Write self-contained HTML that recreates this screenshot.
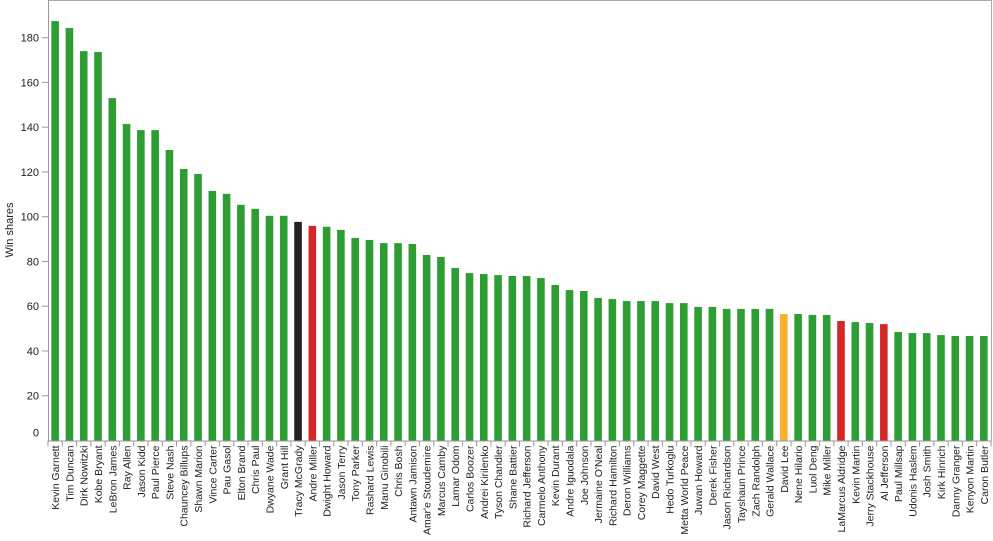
<!DOCTYPE html>
<html><head><meta charset="utf-8"><style>
html,body{margin:0;padding:0;background:#fff;}
svg{display:block;font-family:"Liberation Sans",Arial,sans-serif;}
</style></head><body>
<svg id="chart" width="993" height="541">
<g>
<line x1="48" y1="0.5" x2="991.5" y2="0.5" stroke="#aaa"/>
<line x1="991.5" y1="0" x2="991.5" y2="441" stroke="#aaa"/>
</g>
<g id="yaxis"></g>
<g id="xaxis"></g>
<g id="bars"></g>
<text transform="translate(13,230) rotate(-90)" text-anchor="middle" font-size="11" fill="#222">Win shares</text>
</svg>
<script>
const players = ["Kevin Garnett","Tim Duncan","Dirk Nowitzki","Kobe Bryant","LeBron James","Ray Allen","Jason Kidd","Paul Pierce","Steve Nash","Chauncey Billups","Shawn Marion","Vince Carter","Pau Gasol","Elton Brand","Chris Paul","Dwyane Wade","Grant Hill","Tracy McGrady","Andre Miller","Dwight Howard","Jason Terry","Tony Parker","Rashard Lewis","Manu Ginobili","Chris Bosh","Antawn Jamison","Amar'e Stoudemire","Marcus Camby","Lamar Odom","Carlos Boozer","Andrei Kirilenko","Tyson Chandler","Shane Battier","Richard Jefferson","Carmelo Anthony","Kevin Durant","Andre Iguodala","Joe Johnson","Jermaine O'Neal","Richard Hamilton","Deron Williams","Corey Maggette","David West","Hedo Turkoglu","Metta World Peace","Juwan Howard","Derek Fisher","Jason Richardson","Tayshaun Prince","Zach Randolph","Gerald Wallace","David Lee","Nene Hilario","Luol Deng","Mike Miller","LaMarcus Aldridge","Kevin Martin","Jerry Stackhouse","Al Jefferson","Paul Millsap","Udonis Haslem","Josh Smith","Kirk Hinrich","Danny Granger","Kenyon Martin","Caron Butler"];
const winShares = [187.4,184.3,174.0,173.6,153.0,141.4,138.7,138.7,129.8,121.3,119.1,111.5,110.2,105.3,103.5,100.4,100.4,97.7,95.9,95.5,94.1,90.5,89.6,88.2,88.2,87.8,82.9,82.0,77.1,74.8,74.4,73.9,73.5,73.5,72.6,69.5,67.2,66.8,63.7,63.2,62.3,62.3,62.3,61.4,61.4,59.7,59.7,58.8,58.8,58.8,58.8,56.5,56.5,56.1,56.1,53.4,52.9,52.5,52.0,48.5,48.0,48.0,47.1,46.7,46.7,46.7];
const barColors = {"Tracy McGrady":"#222222","Andre Miller":"#d62728","LaMarcus Aldridge":"#d62728","Al Jefferson":"#d62728","David Lee":"#fbb02d"};
const yTicks = [0,20,40,60,80,100,120,140,160,180];

const NS="http://www.w3.org/2000/svg";
const left=48,right=991,y0=440.5,pxPerUnit=2.238;
const band=(right-left)/players.length;
const yScale=v=>y0-v*pxPerUnit;
const xCenter=i=>left+band*(i+0.5);
function mk(tag,attrs,parent){const e=document.createElementNS(NS,tag);for(const k in attrs)e.setAttribute(k,attrs[k]);parent.appendChild(e);return e;}

const ya=document.getElementById('yaxis');
let al=mk('line',{x1:left+0.5,y1:0,x2:left+0.5,y2:y0+0.5,stroke:'#999'},ya);


yTicks.forEach(t=>{
  const y=yScale(t);
  if(t>0){const tk=mk('line',{x1:42,y1:y,x2:left,y2:y,stroke:'#999'},ya);
  
  }
  const tx=mk('text',{x:39,y:(t===0?y-4:y+4),'text-anchor':'end','font-size':11,fill:'#222'},ya);
  tx.textContent=t;
  
  
});

const xa=document.getElementById('xaxis');
let xl=mk('line',{x1:left,y1:y0+0.5,x2:right,y2:y0+0.5,stroke:'#999'},xa);


for(let i=0;i<=players.length;i++){
  const x=left+band*i;
  const tk=mk('line',{x1:x,y1:y0,x2:x,y2:y0+6,stroke:'#999'},xa);
  
  
}
const bg=document.getElementById('bars');
players.forEach((p,i)=>{
  const cx=xCenter(i),v=winShares[i],w=7.6;
  const r=mk('rect',{x:cx-w/2,y:yScale(v),width:w,height:y0-yScale(v),fill:barColors[p]||'#2e9e34'},bg);
  
  
  const tx=mk('text',{transform:`translate(${cx+4},${y0+5}) rotate(-90)`,'text-anchor':'end','font-size':10.5,fill:'#222'},xa);
  tx.textContent=p;
  
  
});
</script>
</body></html>
